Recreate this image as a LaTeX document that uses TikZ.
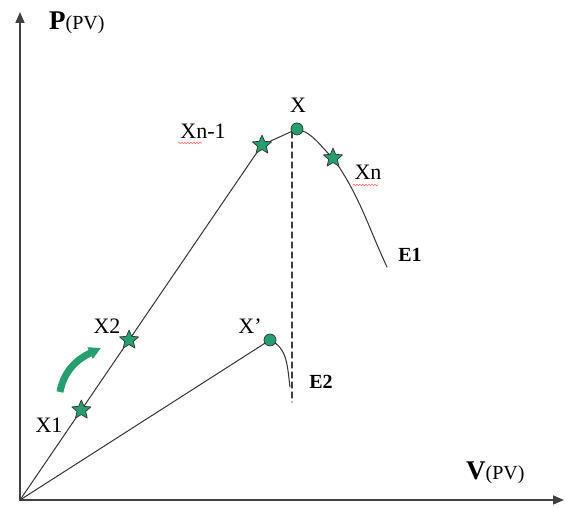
\documentclass[tikz,border=0pt]{standalone}
\usepackage{fontspec}
\setmainfont{Liberation Serif}
\usetikzlibrary{calc,arrows.meta,shapes.geometric,decorations.pathmorphing}

\definecolor{ptgreen}{RGB}{38,158,112}

\begin{document}
\begin{tikzpicture}[x=1pt,y=1pt,>={Triangle[length=11pt,width=9pt]},line join=round,line cap=round,
  lbl/.style={inner sep=0pt,font=\fontsize{22}{24}\selectfont},
  elbl/.style={inner sep=0pt,font=\fontsize{20}{22}\selectfont\bfseries},
  starpt/.style={star,star points=5,star point ratio=2.2,minimum size=20pt,inner sep=0pt,fill=ptgreen,draw=black!80,line width=0.7pt},
  dotpt/.style={circle,minimum size=12pt,inner sep=0pt,fill=ptgreen,draw=black!80,line width=0.7pt},
  squig/.style={red!55,line width=0.6pt,decorate,decoration={snake,segment length=3pt,amplitude=0.9pt}}]
  \useasboundingbox (0,0) rectangle (568,508);

  % axes
  \coordinate (O) at (20,8);
  \coordinate (ytip) at (20,496);
  \coordinate (xtip) at (564,8);
  \draw[->,line width=1.7pt,black!75] (O) -- (ytip);
  \draw[->,line width=1.7pt,black!75] (O) -- (xtip);
  \node[anchor=west,inner sep=0pt] (plbl) at (49,485) {\fontsize{27}{28}\selectfont\textbf{P}\fontsize{20}{21}\selectfont(PV)};
  \node[anchor=west,inner sep=0pt] (vlbl) at (466,35) {\fontsize{27}{28}\selectfont\textbf{V}\fontsize{20}{21}\selectfont(PV)};

  % curve E1
  \coordinate (xnm) at (262,363);
  \coordinate (xtop) at (297,379);
  \coordinate (xn) at (333,350);
  \coordinate (eone) at (387,241);
  \draw[line width=1pt,black!80] (O) -- (xnm) -- (xtop) to[out=-15,in=138] (xn) to[out=-55,in=115] (eone);

  % curve E2
  \coordinate (xp) at (270,168);
  \coordinate (etwo) at (290,121);
  \draw[line width=1pt,black!80] (O) -- (xp) to[out=-25,in=98] (etwo);

  % vertical dashed line
  \coordinate (dtop) at (292,376);
  \coordinate (dbot) at (292,106);
  \draw[line width=1.3pt,black!75,dash pattern=on 6pt off 4pt] (dtop) -- (dbot);

  % points
  \node[starpt] (s1) at ($(O)!0.2535!(xnm)$) {};
  \node[starpt] (s2) at ($(O)!0.4507!(xnm)$) {};
  \node[starpt] (snm) at (xnm) {};
  \node[starpt] (sn) at (xn) {};
  \node[dotpt] (cx) at (xtop) {};
  \node[dotpt] (cxp) at (xp) {};

  % labels
  \node[lbl] (lx) at (298,403) {X};
  \node[lbl] (lxnm) at (203,377) {Xn-1};
  \node[lbl] (lxn) at (368,336) {Xn};
  \node[lbl] (lx2) at (107,182) {X2};
  \node[lbl] (lx1) at (49,83) {X1};
  \node[lbl] (lxp) at (250,182) {X’};
  \node[elbl] (le1) at (410,253) {E1};
  \node[elbl] (le2) at (321,126) {E2};
  \draw[squig] (178,365) -- (202,365);
  \draw[squig] (353,323) -- (378,323);

  % turning arrow
  \coordinate (atail) at (60,116);
  \coordinate (ahead) at (101,160);
  \draw[-{Triangle[length=12pt,width=12pt]},line width=7pt,line cap=butt,ptgreen] (atail) to[out=80,in=205] (ahead);
\end{tikzpicture}
\end{document}
